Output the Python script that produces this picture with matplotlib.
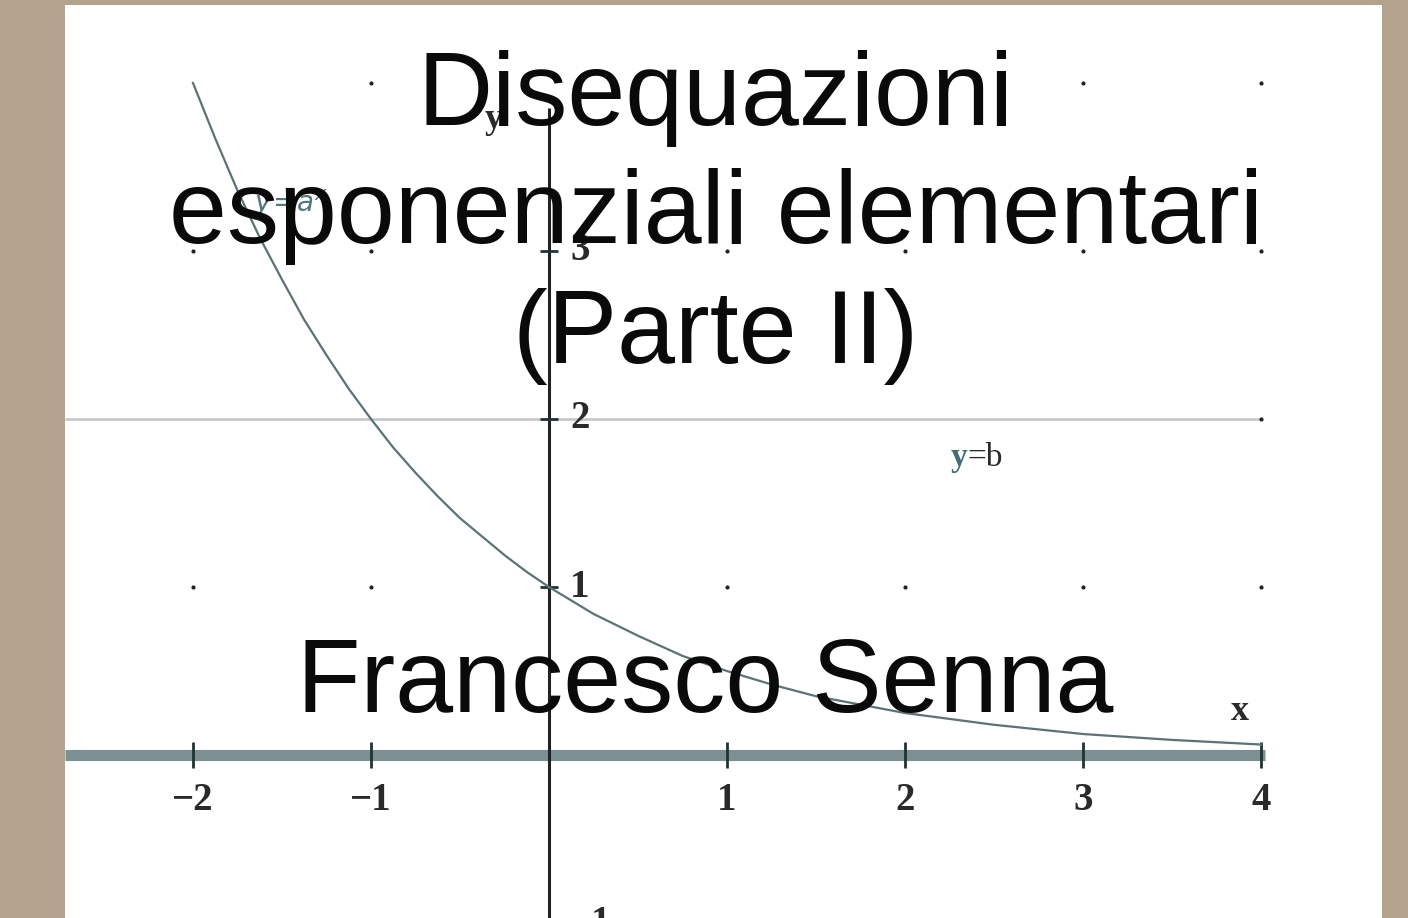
import matplotlib
matplotlib.use("Agg")
import matplotlib.pyplot as plt

# values
curve_x = [-2.0, -1.875, -1.75, -1.625, -1.5, -1.375, -1.25, -1.125, -1.0, -0.875, -0.75, -0.625, -0.5,
           -0.375, -0.25, -0.125, 0.0, 0.25, 0.5, 0.75, 1.0, 1.25, 1.5, 1.75, 2.0, 2.5, 3.0, 3.5, 4.0]
curve_y = [4.0, 3.67, 3.36, 3.08, 2.83, 2.59, 2.38, 2.18, 2.0, 1.83, 1.68, 1.54, 1.41,
           1.30, 1.19, 1.09, 1.0, 0.84, 0.71, 0.59, 0.5, 0.42, 0.35, 0.30, 0.25, 0.18, 0.125, 0.09, 0.0625]
b_value = 2
x_ticks = [-2, -1, 1, 2, 3, 4]
x_tick_labels = ["\u22122", "\u22121", "1", "2", "3", "4"]
y_ticks = [-1, 1, 2, 3]
y_tick_labels = ["\u22121", "1", "2", "3"]
grid_pts = [(-1, 4), (3, 4), (4, 4),
            (-2, 3), (-1, 3), (1, 3), (2, 3), (3, 3), (4, 3),
            (4, 2),
            (-2, 1), (-1, 1), (1, 1), (2, 1), (3, 1), (4, 1)]
title_lines = ["Disequazioni", "esponenziali elementari", "(Parte II)"]
author = "Francesco Senna"

W, H = 1408, 918
fig = plt.figure(figsize=(W / 100, H / 100), dpi=100, facecolor="#b3a38d")

#White panel with the graph.
ax = fig.add_axes([65 / W, 0, (1382 - 65) / W, (918 - 5) / H])
ax.set_facecolor("white")
ax.set_xlim(-2.719, 4.680)
ax.set_ylim(-0.970, 4.464)
for sp in ax.spines.values():
    sp.set_visible(False)
ax.set_xticks([])
ax.set_yticks([])

tick_font = dict(family="Liberation Serif", weight="bold", color="#2a2a2a")

# grid dots
ax.scatter([p[0] for p in grid_pts], [p[1] for p in grid_pts], s=4, color="#222222", zorder=2)

# y=b line
ax.hlines(b_value, -2.719, 4.0, color="#c4c4c4", lw=1.8, zorder=1)

# x axis (thick band) and y axis
ax.hlines(0, -2.719, 4.02, color="#7a9092", lw=8, zorder=3)
ax.vlines(0, -0.970, 3.85, color="#222222", lw=2.2, zorder=4)

# ticks
for t in x_ticks:
    ax.vlines(t, -0.075, 0.075, color="#1e3434", lw=2.0, zorder=5)
for t in y_ticks:
    ax.hlines(t, -0.05, 0.05, color="#1e3434", lw=2.0, zorder=5)

# the exponential curve
ax.plot(curve_x, curve_y, color="#587474", lw=1.6, zorder=6)

# tick labels
for t, lab in zip(x_ticks, x_tick_labels):
    ax.text(t, -0.27, lab, ha="center", va="center", fontsize=28, zorder=7, **tick_font)
for t, lab in zip(y_ticks, y_tick_labels):
    ax.text(0.12, t, lab, ha="left", va="center", fontsize=28, zorder=7, **tick_font)

# axis names and curve labels
ax.text(3.88, 0.26, "x", ha="center", va="center", fontsize=26, zorder=7, **tick_font)
ax.text(-0.31, 3.78, "y", ha="center", va="center", fontsize=26, zorder=7, **tick_font)
ax.text(2.35, 1.77, "y", ha="right", va="center", fontsize=24, family="Liberation Serif",
        weight="bold", color="#3f6f72", zorder=7)
ax.text(2.35, 1.77, "=b", ha="left", va="center", fontsize=24, family="Liberation Serif",
        color="#2a2a2a", zorder=7)
ax.text(-1.45, 3.28, r"$y\!=\!a^{x}$", ha="center", va="center", fontsize=20,
        color="#4f7a7c", zorder=7)

#Slide text on top.
baselines = [125, 243, 363]
for line, yb in zip(title_lines, baselines):
    fig.text(716 / W, 1 - yb / H, line, ha="center", va="baseline",
             fontsize=75, family="Liberation Sans", color="#0a0a0a", zorder=10)
fig.text(705 / W, 1 - 712 / H, author, ha="center", va="baseline",
         fontsize=75, family="Liberation Sans", color="#0a0a0a", zorder=10)

fig.savefig("out.png", dpi=100, facecolor=fig.get_facecolor())
